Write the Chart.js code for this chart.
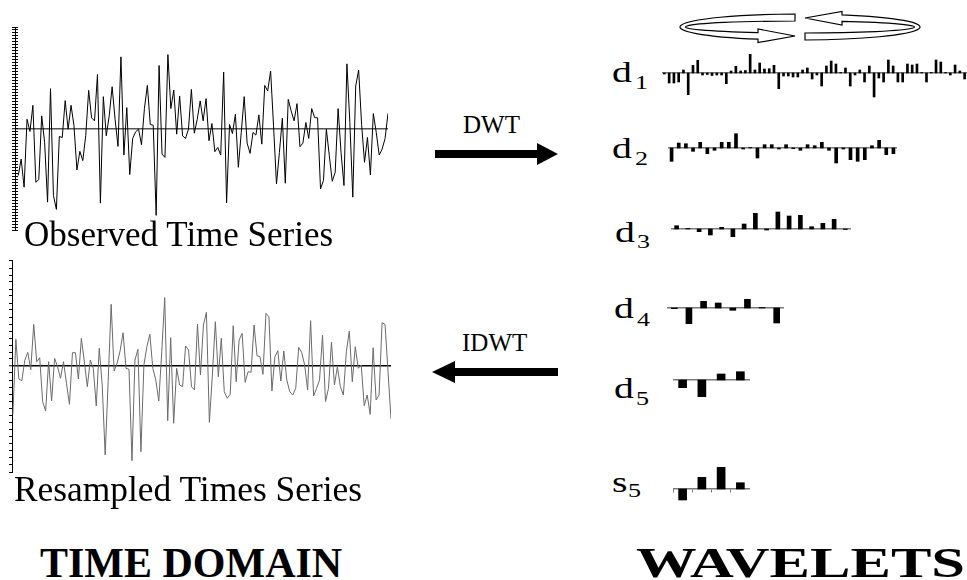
<!DOCTYPE html>
<html><head><meta charset="utf-8">
<script src="https://cdn.jsdelivr.net/npm/chart.js@4/dist/chart.umd.min.js"></script>
<style>
html,body{margin:0;padding:0;background:#fff;}
#stage{position:relative;width:967px;height:580px;overflow:hidden;background:#fff;font-family:"Liberation Serif","Times New Roman",serif;color:#000;}
.box{position:absolute;}
.box canvas{display:block;}
.t{position:absolute;white-space:nowrap;line-height:1;transform-origin:0 0;}
#deco{position:absolute;left:0;top:0;}
</style></head><body>
<div id="stage">
<svg id="deco" width="967" height="580" viewBox="0 0 967 580">
  <g fill="#fff" stroke="#000" stroke-width="1.2">
    <path d="M805 18 L842 11.5 L842 14.8 A119 13 0 0 1 805 40 L805 33 A113 6 0 0 0 842 21.4 L842 25 Z"/>
    <g transform="rotate(180 800 27)"><path d="M805 18 L842 11.5 L842 14.8 A119 13 0 0 1 805 40 L805 33 A113 6 0 0 0 842 21.4 L842 25 Z"/></g>
  </g>
  <polygon points="435,150 537,150 537,143 558,154 537,165 537,158 435,158" fill="#000"/>
  <polygon points="558,368 455,368 455,361 432,372 455,383 455,376 558,376" fill="#000"/>
</svg>
<div class="box" style="left:0px;top:20px;"><canvas id="obs" width="395" height="215"></canvas></div>
<div class="box" style="left:0px;top:250px;"><canvas id="res" width="400" height="230"></canvas></div>
<div class="box" style="left:662px;top:43px;"><canvas id="cd1" width="305" height="60"></canvas></div>
<div class="box" style="left:668px;top:118px;"><canvas id="cd2" width="229" height="60"></canvas></div>
<div class="box" style="left:671px;top:199px;"><canvas id="cd3" width="180" height="60"></canvas></div>
<div class="box" style="left:667px;top:278px;"><canvas id="cd4" width="117" height="60"></canvas></div>
<div class="box" style="left:673px;top:350px;"><canvas id="cd5" width="77" height="60"></canvas></div>
<div class="box" style="left:673px;top:459px;"><canvas id="cs5" width="77" height="60"></canvas></div>
</div>
<script>
// ---- data (arbitrary units) ----
const observed = [-47.3,-30.7,-59,9.3,-3,23.3,-54,-51.3,12.7,-14,-74,40,-67.3,-81.3,-8,-9,28,-0.7,23.3,2.7,-41.7,-23,-32.3,-7.3,38.3,10.7,7.7,54.3,-75,32,-7.3,12.7,42,9.3,-18,72,-26.7,21,-46.3,-10,-3.3,-0.7,-16.3,20,43.3,4,3.3,-87.3,63.3,-25.7,-29,74.3,20,38.7,-5.7,32.7,-7.3,-10,-0.7,39.3,-4.7,
 9.3,27.7,7.7,30,-12.3,5,-23.3,-19,-26.7,56.7,-74.7,4,-5,14.3,-39,-4,32,-14.7,-25,-4,-6.7,13.7,-15.7,43.3,37.7,57.7,2.7,-55.7,-24,10.3,-55,29.3,17.7,7.7,25,-18.3,-14.7,6,-10,20,11,10.7,-60.7,-52.3,-0.7,-27.3,-53,-44,20,-24,-57.3,65,6,-69,42.7,58.7,4.3,-34,-9,-46.7,15,-4,-26.7,-20.7,-10,15.3];
const resampled = [-48.3,26.7,-13,-14.7,5.7,13.7,-3.7,41.7,4.3,8.3,-35.7,-45,4.3,-35,7.7,-0.7,-12.3,4.3,-17.3,-38.3,13.3,13.3,-13,27.7,4.3,-20.7,6,-2.3,-40,17.7,-19,-89,-15.7,61.7,-5,2.7,15,33.3,-2.3,-3.3,-94.7,6,16.7,-85.7,1,19.3,31.7,-2.3,-14,-35,14.3,68.3,-54.7,28.3,-57.3,-2.3,-19,-20.7,20,16,-20.7,-24,42,
 -9,41,53.7,-56.3,-9,44.3,-10.7,27.7,-25.7,-32.3,-28.3,40.3,-15.7,26,32.7,-16.3,-5.7,-6.3,41,10.3,9.3,-8.3,52.7,49.3,-25,9.3,15.3,-15,15,-14,-25.7,-29,-22.3,18.7,13.7,1,-24,45.3,-30,-22.3,-14,31,-35.7,-22.3,23.7,-19,-0.7,-20.7,-29,14.3,35,-15.7,19.3,-2.3,1,-39.7,-29,-48.3,18.3,-34,-29,43.3,41.7,-5.7,-53];
const d1 = [-1,-10,-10,-9,3,-21.7,7.7,12.7,-2,-1.5,-2.5,-2,-2,-10.7,2,6.7,2,2.5,18.7,3,10,4,4.3,7.7,-15.7,-3,-3,-4,-4,3,5,-6,-2,-13,7,12,9,0.5,5,-13,-2,3,-9,7,-24,-5,-9,13,7,-9,-9,9,8,9,0.5,-9,0.5,13,11,0.5,-2,8,2,-6];
const d2 = [-13.3,5,4.3,-3.3,5.7,-5.7,-2.3,5.7,5.7,14.3,-1,0.5,-10,3.3,3.3,-1,3.3,-0.7,-2.3,3.3,2.3,5.7,-2.3,-15,-1,-11.7,-13.3,-11.7,2.3,7.7,-6.7,-5.7];
const d3 = [3.3,0.5,-2.7,-6,1.7,-7.7,5,15.7,-1,17,13,13.7,2.3,5.7,9.7,-0.5];
const d4 = [-0.7,-15.7,6.7,5,-2.3,8.7,0.5,-15];
const d5 = [-7.7,-16.7,6,8.3];
const s5 = [-11,11.7,21.7,6.3];

// ---- texts ----
const stage = document.getElementById('stage');
function label(txt, x, base, fs, bold, sx) {
  const d = document.createElement('div');
  d.className = 't';
  d.textContent = txt;
  d.style.left = x + 'px';
  d.style.top = (base - 0.8375 * fs) + 'px';
  d.style.fontSize = fs + 'px';
  if (bold) d.style.fontWeight = 'bold';
  if (sx) d.style.transform = 'scaleX(' + sx + ')';
  stage.appendChild(d);
  return d;
}
label('Observed Time Series', 24, 246, 35);
label('Resampled Times Series', 14, 502, 35.4);
label('TIME DOMAIN', 40, 577, 42, true);
const wv = label('WAVELETS', 636, 577, 42, true);
wv.style.transform = 'scaleX(' + (329 / wv.offsetWidth) + ')';
label('DWT', 463, 133, 25);
label('IDWT', 462, 351, 25);
const SX = 1.37;
const subs = [
  ['d','1',612,82,635,89],
  ['d','2',612,158,635,165],
  ['d','3',615,242,637,248],
  ['d','4',614,318,637,326],
  ['d','5',614,398,636,405],
  ['s','5',612,492,628,497]
];
subs.forEach(s => { label(s[0], s[2], s[3], 29, false, SX); label(s[1], s[4], s[5], 19, false, SX); });

// ---- charts ----
const common = {
  responsive: false, animation: false, events: [],
  plugins: { legend: { display: false }, tooltip: { enabled: false } }
};
function zeroColor(col) { return c => (c.tick && c.tick.value === 0) ? col : 'rgba(0,0,0,0)'; }

function seriesChart(id, vals, opt) {
  const scales = {
    x: { type: 'linear', min: opt.xmin, max: vals.length - 1, display: false },
    y: {
      min: -opt.r, max: opt.r, weight: 1,
      afterFit: s => { s.width = opt.axisW; },
      ticks: { display: false, stepSize: opt.step },
      border: { display: true, color: '#000', width: 1 },
      grid: { drawOnChartArea: true, drawTicks: true, tickLength: opt.tl, tickColor: '#000', tickWidth: 1,
              color: zeroColor(opt.zero), lineWidth: c => (c.tick && c.tick.value === 0) ? 1.5 : 1 }
    }
  };
  if (opt.cross) {
    // inner companion axis: same range, tick marks pointing into the plot so ticks cross the axis line
    scales.yIn = {
      type: 'linear', position: 'left', min: -opt.r, max: opt.r, weight: 0,
      afterFit: s => { s.width = 0; },
      ticks: { display: false, stepSize: opt.step },
      border: { display: false },
      grid: { drawOnChartArea: false, drawTicks: true, tickLength: -opt.cross, tickColor: '#000', tickWidth: 1 }
    };
  }
  new Chart(document.getElementById(id), {
    type: 'line',
    data: { datasets: [{ data: vals.map((v, i) => ({ x: i, y: v })), borderColor: opt.line, borderWidth: 1, pointRadius: 0, tension: 0, fill: false }] },
    options: Object.assign({}, common, { layout: { padding: opt.pad }, scales: scales })
  });
}
seriesChart('obs', observed, { line: '#000', zero: '#555', pad: { top: 7, bottom: 5, left: 0, right: 7 }, xmin: -1.1, r: 102, step: 3, tl: 3, cross: 3, axisW: 15 });
seriesChart('res', resampled, { line: '#6a6a6a', zero: '#000', pad: { top: 10, bottom: 8, left: 0, right: 9 }, xmin: -0.3, r: 106, step: 7, tl: 3, axisW: 12 });

function barChart(id, vals, thick, ticks) {
  new Chart(document.getElementById(id), {
    type: 'bar',
    data: { labels: vals.map((_, i) => String(i + 1)), datasets: [{ data: vals, backgroundColor: '#000', borderWidth: 0, barThickness: thick }] },
    options: Object.assign({}, common, {
      layout: { padding: 0 },
      scales: {
        x: { type: 'category', position: { y: 0 }, offset: true,
             ticks: { display: false },
             grid: { display: true, offset: true, drawOnChartArea: false, drawTicks: ticks, tickLength: 3, tickColor: '#777', tickWidth: 1 },
             border: { display: true, color: '#7a7a7a', width: 1.5 } },
        y: { min: -30, max: 30, display: false }
      }
    })
  });
}
barChart('cd1', d1, 2, false);
barChart('cd2', d2, 3, false);
barChart('cd3', d3, 4, false);
barChart('cd4', d4, 6, false);
barChart('cd5', d5, 8, false);
barChart('cs5', s5, 8, true);
</script>
</body></html>
